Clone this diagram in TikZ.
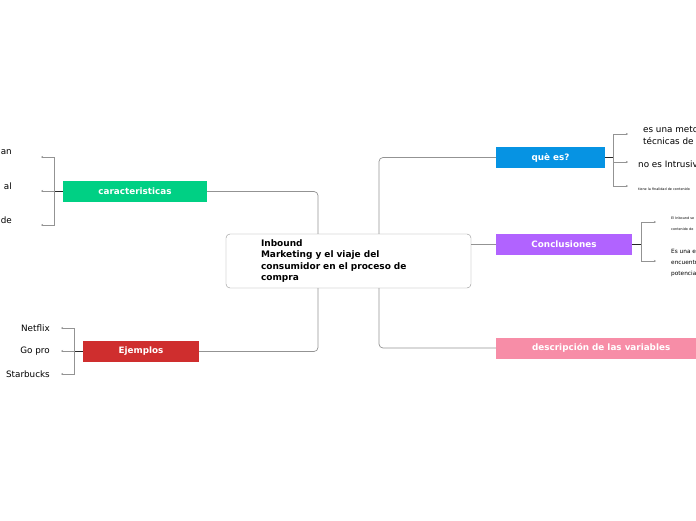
\documentclass[tikz,border=0pt]{standalone}
\usepackage{fontspec}
\setmainfont{DejaVu Sans}
\usetikzlibrary{arrows.meta}
\definecolor{cgreen}{HTML}{00D084}
\definecolor{cblue}{HTML}{0693E3}
\definecolor{cpurple}{HTML}{B163FF}
\definecolor{cpink}{HTML}{F78DA7}
\definecolor{cred}{HTML}{CF2E2E}
\begin{document}
\begin{tikzpicture}[x=1pt,y=-1pt,
  link/.style={draw=gray!85,line width=0.7pt,rounded corners=4pt},
  stub/.style={draw=black!85,line width=0.9pt},
  tick/.style={draw=gray!85,line width=0.7pt,-{Stealth[length=2pt,width=2pt]}},
  topic/.style={rectangle,minimum height=21pt,inner sep=0pt,text=white,
    font=\bfseries\fontsize{8.8}{10}\selectfont},
  leaf/.style={inner sep=0pt,font=\fontsize{8.8}{11.3}\selectfont,align=left},
  tiny/.style={inner sep=0pt,font=\fontsize{3.4}{11}\selectfont,align=left}]
\clip (0,0) rectangle (696,520);
\node[draw=gray!85,rounded corners=4pt,minimum width=245pt,minimum height=54pt,
  text width=175pt,align=left,inner sep=0pt,font=\bfseries\fontsize{9}{11.3}\selectfont]
  (inb) at (348.5,261) {Inbound\\Marketing y el viaje del\\consumidor en el proceso de\\compra};
% left branches
\node[topic,fill=cgreen,minimum width=144pt] (car) at (135,191.5) {caracteristicas};
\node[topic,fill=cred,minimum width=116pt] (ej) at (141,351.5) {Ejemplos};
\draw[link] (car.east) -| ([xshift=-30.5pt]inb.north);
\draw[link] (ej.east) -| ([xshift=-30.5pt]inb.south);
% right branches
\node[topic,fill=cblue,minimum width=109pt] (que) at (550.5,157.5) {què es?};
\node[topic,fill=cpurple,minimum width=136pt] (con) at (564,244.5) {Conclusiones};
\node[topic,fill=cpink,minimum width=210pt,anchor=west] (des) at (496,348) {descripción de las variables};
\draw[link] ([xshift=30.5pt]inb.north) |- (que.west);
\draw[link] (con.west -| inb.east) -- (con.west);
\draw[link] ([xshift=30.5pt]inb.south) |- (des.west);
% caracteristicas
\draw[stub] (car.west) -- ++(-8,0) coordinate (carb);
\foreach \y/\t [count=\i] in {157/an,191/al,225/de} {
  \coordinate (car\i) at (41,\y);
  \node[leaf,anchor=east] (cl\i) at (12,\y-5) {\t};
  \draw[tick] (carb) |- (car\i);
}
% Ejemplos
\draw[stub] (ej.west) -- ++(-8,0) coordinate (ejb);
\foreach \y/\t [count=\i] in {328/Netflix,351/Go pro,374/Starbucks} {
  \coordinate (ej\i) at (61,\y);
  \node[leaf,anchor=east] (el\i) at (50,\y+0.5) {\t};
  \draw[tick] (ejb) |- (ej\i);
}
% què es?
\draw[stub] (que.east) -- ++(8,0) coordinate (queb);
\foreach \y [count=\i] in {134,162,186} {
  \coordinate (que\i) at (628,\y);
  \draw[tick] (queb) |- (que\i);
}
\node[leaf,anchor=west] (ql1) at (643,136) {es una metodología\\técnicas de marketing};
\node[leaf,anchor=west] (ql2) at (638,164.5) {no es Intrusivo};
\node[tiny,anchor=west] (ql3) at (638,189) {tiene la finalidad de contenido};
% Conclusiones
\draw[stub] (con.east) -- ++(9,0) coordinate (conb);
\foreach \y [count=\i] in {222,261} {
  \coordinate (con\i) at (656,\y);
  \draw[tick] (conb) |- (con\i);
}
\node[tiny,anchor=west] (cn1) at (671,223.5) {El Inbound se\\contenido de};
\node[leaf,anchor=west,font=\fontsize{5.8}{11}\selectfont] (cn2) at (671,263) {Es una estrategia\\encuentran\\potenciales};
\end{tikzpicture}
\end{document}
